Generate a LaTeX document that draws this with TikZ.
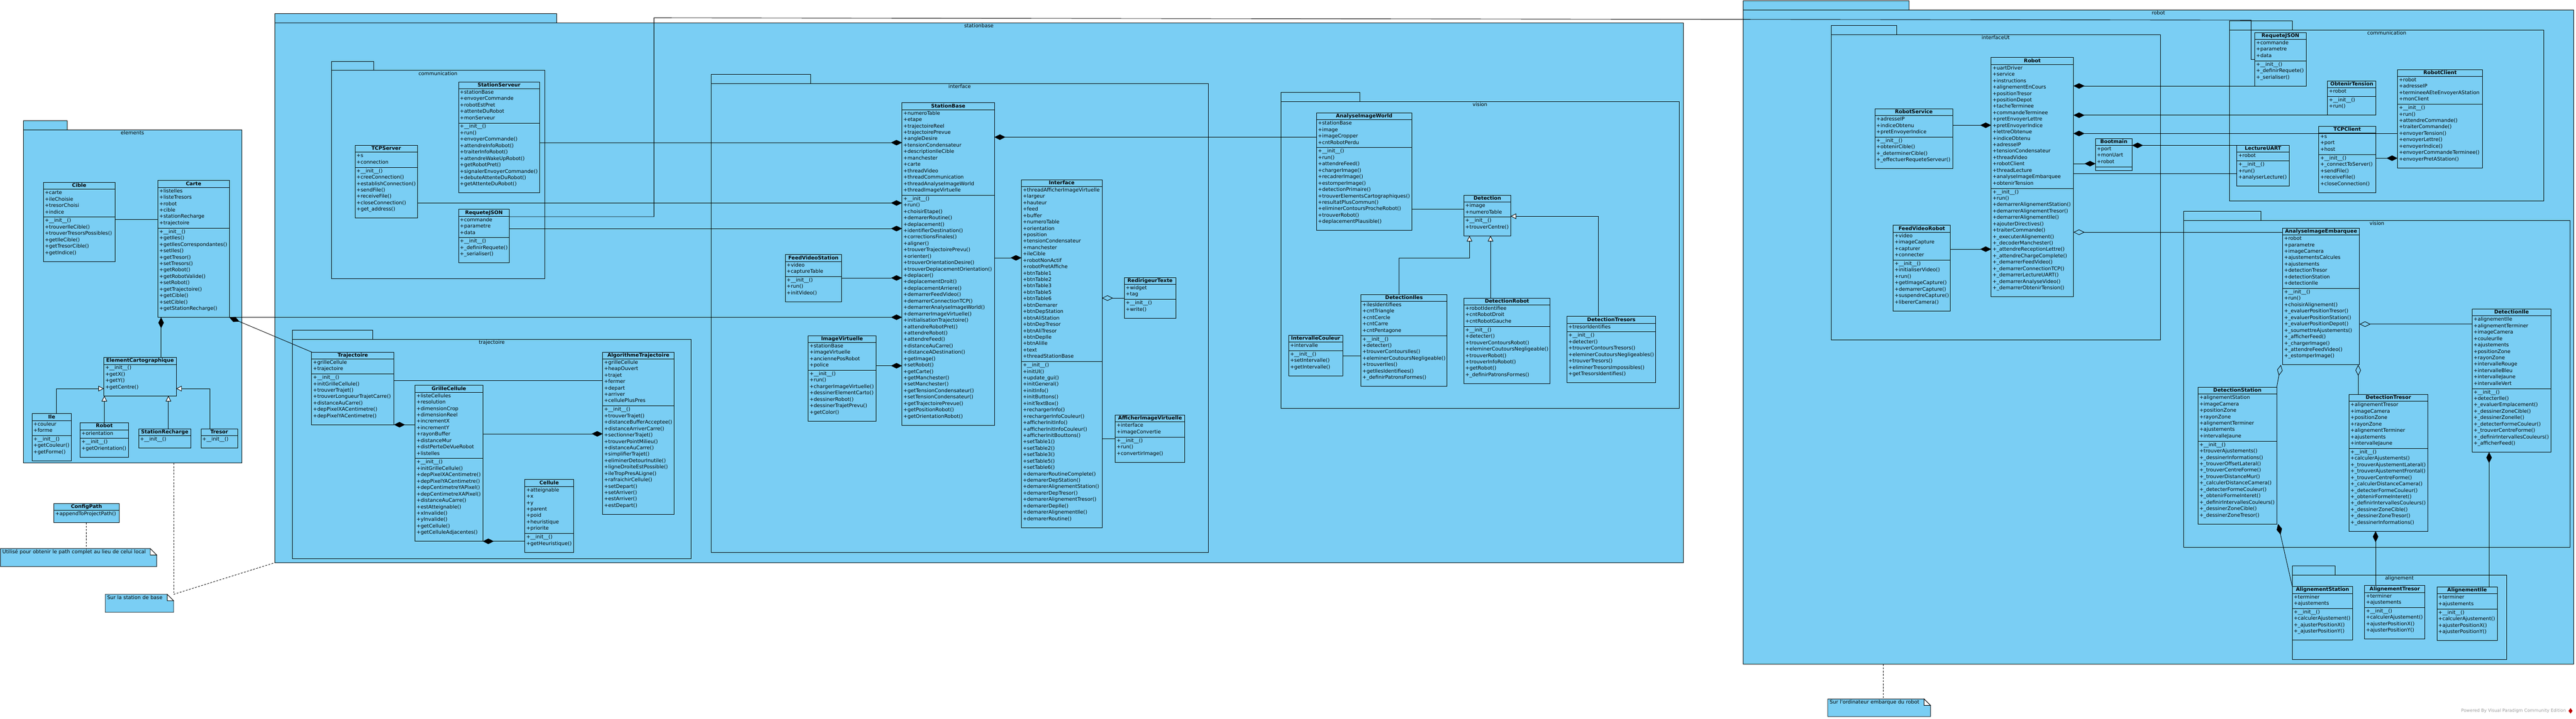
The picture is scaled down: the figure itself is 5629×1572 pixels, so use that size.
\documentclass[tikz,border=0pt]{standalone}
\usepackage{fontspec}
\setmainfont{DejaVu Sans}
\usetikzlibrary{arrows.meta,shapes.multipart,shapes.geometric,backgrounds}

\definecolor{vpblue}{RGB}{122,206,244}

% struts for the class compartments
\newcommand{\hd}[1]{\rule[-3pt]{0pt}{12pt}\textbf{#1}}
\newcommand{\fs}{\rule{0pt}{9.8pt}}
\newcommand{\atend}{\rule[-6.2pt]{0pt}{6.2pt}}
\newcommand{\mtend}{\rule[-14.2pt]{0pt}{14.2pt}}
\newcommand{\cls}[3]{\hd{#1}\nodepart{second}\fs#2\atend\nodepart{third}\fs#3\mtend}
\newcommand{\clsB}[2]{\hd{#1}\nodepart{second}\fs#2\mtend}

\tikzset{
  umlclass/.style={draw, fill=vpblue, line width=1pt, rectangle split, rectangle split parts=3,
    rectangle split part align={center,left,left}, align=left, anchor=north west,
    inner xsep=3pt, inner ysep=1pt, outer sep=0pt, font=\fontsize{11}{14}\selectfont},
  umlclassB/.style={umlclass, rectangle split parts=2},
  package/.style={draw, fill=vpblue, line width=1pt, anchor=north west, inner sep=0pt, outer sep=0pt},
  pkgtab/.style={draw, fill=vpblue, line width=1pt},
  pkglabel/.style={anchor=north, inner sep=0.5pt, font=\fontsize{11}{14}\selectfont},
  assoc/.style={line width=1pt},
  compo/.style={line width=1pt, -{Diamond[length=24pt,width=12pt]}},
  aggreg/.style={line width=1pt, -{Diamond[open,length=24pt,width=12pt]}},
  inherit/.style={line width=1pt, -{Triangle[open,fill=white,length=12pt,width=12pt]}},
  notelink/.style={line width=1pt, dash pattern=on 4pt off 3pt},
  notetext/.style={anchor=north west, align=left, inner xsep=4pt, inner ysep=1pt, text height=9.8pt,
    font=\fontsize{11}{14}\selectfont},
  noteshape/.style={draw, fill=vpblue, line width=1pt},
}

\begin{document}
\catcode`\_=12
\begin{tikzpicture}[x=1pt,y=-1pt]
\useasboundingbox (0,0) rectangle (5629,1572);

% packages, outer ones first
\def\packages{pkgElements/51/284/477/729/96/elements,
  pkgStation/600/50/3078/1181/616/stationbase,
  pkgStComm/724/154/466/455/93/communication,
  pkgTraj/639/742/871/480/175/trajectoire,
  pkgInterface/1554/183/1086/1026/217/interface,
  pkgVision/2799/222/870/671/173/vision,
  pkgRobot/3809/22/1815/1431/363/robot,
  pkgInterfaceUt/4001/76/720/667/144/interfaceUt,
  pkgRbComm/4872/66/687/374/137/communication,
  pkgRbVision/4772/482/844/715/168/vision,
  pkgAlign/5009/1258/468/185/93/alignement}
\foreach \n/\x/\y/\w/\h/\t/\l in \packages {
  \node[package, minimum width=\w, minimum height=\h] (\n) at (\x,\y) {};
  \draw[pkgtab] (\n.north west) rectangle ++(\t,-20);
  \node[pkglabel] (\n-lbl) at (\n.north) {\strut\l};
}

% elements
\node[umlclass, minimum width=156] (Cible) at (95,399) {\cls{Cible}{+carte\\+ileChoisie\\+tresorChoisi\\+indice}{+__init__()\\+trouverIleCible()\\+trouverTresorsPossibles()\\+getIleCible()\\+getTresorCible()\\+getIndice()}};
\node[umlclass, minimum width=156] (Carte) at (345,395) {\cls{Carte}{+listeIles\\+listeTresors\\+robot\\+cible\\+stationRecharge\\+trajectoire}{+__init__()\\+getIles()\\+getIlesCorrespondantes()\\+setIles()\\+getTresor()\\+setTresors()\\+getRobot()\\+getRobotValide()\\+setRobot()\\+getTrajectoire()\\+getCible()\\+setCible()\\+getStationRecharge()}};
\node[umlclassB, minimum width=158] (ElementCarto) at (227,782) {\clsB{ElementCartographique}{+__init__()\\+getX()\\+getY()\\+getCentre()}};
\node[umlclass, minimum width=86] (Ile) at (70,905) {\cls{Ile}{+couleur\\+forme}{+__init__()\\+getCouleur()\\+getForme()}};
\node[umlclass, minimum width=106] (RobotElem) at (175,925) {\cls{Robot}{+orientation}{+__init__()\\+getOrientation()}};
\node[umlclassB, minimum width=114] (StationRecharge) at (303,938) {\clsB{StationRecharge}{+__init__()}};
\node[umlclassB, minimum width=80] (Tresor) at (439,938) {\clsB{Tresor}{+__init__()}};
\node[umlclassB, minimum width=142] (ConfigPath) at (118,1101) {\clsB{ConfigPath}{+appendToProjectPath()}};

% stationbase / communication
\node[umlclass, minimum width=177] (StationServeur) at (1002,179) {\cls{StationServeur}{+stationBase\\+envoyerCommande\\+robotEstPret\\+attenteDuRobot\\+monServeur}{+__init__()\\+run()\\+envoyerCommande()\\+attendreInfoRobot()\\+traiterInfoRobot()\\+attendreWakeUpRobot()\\+getRobotPret()\\+signalerEnvoyerCommande()\\+debuteAttenteDuRobot()\\+getAttenteDuRobot()}};
\node[umlclass, minimum width=136] (TCPServer) at (776,318) {\cls{TCPServer}{+s\\+connection}{+__init__()\\+creeConnection()\\+establishConnection()\\+sendFile()\\+receiveFile()\\+closeConnection()\\+get_address()}};
\node[umlclass, minimum width=111] (RequeteJSON) at (1002,458) {\cls{RequeteJSON}{+commande\\+parametre\\+data}{+__init__()\\+_definirRequete()\\+_serialiser()}};

% stationbase / trajectoire
\node[umlclass, minimum width=180] (Trajectoire) at (681,770) {\cls{Trajectoire}{+grilleCellule\\+trajectoire}{+__init__()\\+initGrilleCellule()\\+trouverTrajet()\\+trouverLongueurTrajetCarre()\\+distanceAuCarre()\\+depPixelXACentimetre()\\+depPixelYACentimetre()}};
\node[umlclass, minimum width=148] (GrilleCellule) at (907,843) {\cls{GrilleCellule}{+listeCellules\\+resolution\\+dimensionCrop\\+dimensionReel\\+incrementX\\+incrementY\\+rayonBuffer\\+distanceMur\\+distPerteDeVueRobot\\+listeIles}{+__init__()\\+initGrilleCellule()\\+depPixelXACentimetre()\\+depPixelYACentimetre()\\+depCentimetreYAPixel()\\+depCentimetreXAPixel()\\+distanceAuCarre()\\+estAtteignable()\\+xInvalide()\\+yInvalide()\\+getCellule()\\+getCelluleAdjacentes()}};
\node[umlclass, minimum width=156] (AlgoTrajectoire) at (1317,770) {\cls{AlgorithmeTrajectoire}{+grilleCellule\\+heapOuvert\\+trajet\\+fermer\\+depart\\+arriver\\+cellulePlusPres}{+__init__()\\+trouverTrajet()\\+distanceBufferAcceptee()\\+distanceArriverCarre()\\+sectionnerTrajet()\\+trouverPointMilieu()\\+distanceAuCarre()\\+simplifierTrajet()\\+eliminerDetourInutile()\\+ligneDroiteEstPossible()\\+ileTropPresALigne()\\+rafraichirCellule()\\+setDepart()\\+setArriver()\\+estArriver()\\+estDepart()}};
\node[umlclass, minimum width=106] (Cellule) at (1147,1049) {\cls{Cellule}{+atteignable\\+x\\+y\\+parent\\+poid\\+heuristique\\+priorite}{+__init__()\\+getHeuristique()}};

% stationbase / interface
\node[umlclass, minimum width=202] (StationBase) at (1971,225) {\cls{StationBase}{+numeroTable\\+etape\\+trajectoireReel\\+trajectoirePrevue\\+angleDesire\\+tensionCondensateur\\+descriptionIleCible\\+manchester\\+carte\\+threadVideo\\+threadCommunication\\+threadAnalyseImageWorld\\+threadImageVirtuelle}{+__init__()\\+run()\\+choisirEtape()\\+demarerRoutine()\\+deplacement()\\+identifierDestination()\\+correctionsFinales()\\+aligner()\\+trouverTrajectoirePrevu()\\+orienter()\\+trouverOrientationDesire()\\+trouverDeplacementOrientation()\\+deplacer()\\+deplacementDroit()\\+deplacementArriere()\\+demarrerFeedVideo()\\+demarrerConnectionTCP()\\+demarrerAnalyseImageWorld()\\+demarrerImageVirtuelle()\\+initialisationTrajectoire()\\+attendreRobotPret()\\+attendreRobot()\\+attendreFeed()\\+distanceAuCarre()\\+distanceADestination()\\+getImage()\\+setRobot()\\+getCarte()\\+getManchester()\\+setManchester()\\+getTensionCondensateur()\\+setTensionCondensateur()\\+getTrajectoirePrevue()\\+getPositionRobot()\\+getOrientationRobot()}};
\node[umlclass, minimum width=123] (FeedVideoStation) at (1716,557) {\cls{FeedVideoStation}{+video\\+captureTable}{+__init__()\\+run()\\+initVideo()}};
\node[umlclass, minimum width=148] (ImageVirtuelle) at (1766,734) {\cls{ImageVirtuelle}{+stationBase\\+imageVirtuelle\\+anciennePosRobot\\+police}{+__init__()\\+run()\\+chargerImageVirtuelle()\\+dessinerElementCarto()\\+dessinerRobot()\\+dessinerTrajetPrevu()\\+getColor()}};
\node[umlclass, minimum width=176] (Interface) at (2232,393) {\cls{Interface}{+threadAfficherImageVirtuelle\\+largeur\\+hauteur\\+feed\\+buffer\\+numeroTable\\+orientation\\+position\\+tensionCondensateur\\+manchester\\+ileCible\\+robotNonActif\\+robotPretAffiche\\+btnTable1\\+btnTable2\\+btnTable3\\+btnTable5\\+btnTable6\\+btnDemarer\\+btnDepStation\\+btnAliStation\\+btnDepTresor\\+btnAliTresor\\+btnDepIle\\+btnAliIle\\+text\\+threadStationBase}{+__init__()\\+initUI()\\+update_gui()\\+initGeneral()\\+initInfo()\\+initButtons()\\+initTextBox()\\+rechargerInfo()\\+rechargerInfoCouleur()\\+afficherInitInfo()\\+afficherInitInfoCouleur()\\+afficherInitBouttons()\\+setTable1()\\+setTable2()\\+setTable3()\\+setTable5()\\+setTable6()\\+demarerRoutineComplete()\\+demarerDepStation()\\+demarerAlignementStation()\\+demarerDepTresor()\\+demarerAlignementTresor()\\+demarerDepIle()\\+demarerAlignementIle()\\+demarerRoutine()}};
\node[umlclass, minimum width=112] (RedirigeurTexte) at (2457,607) {\cls{RedirigeurTexte}{+widget\\+tag}{+__init__()\\+write()}};
\node[umlclass, minimum width=152] (AfficherImage) at (2437,908) {\cls{AfficherImageVirtuelle}{+interface\\+imageConvertie}{+__init__()\\+run()\\+convertirImage()}};

% stationbase / vision
\node[umlclass, minimum width=208] (AnalyseWorld) at (2877,247) {\cls{AnalyseImageWorld}{+stationBase\\+image\\+imageCropper\\+cntRobotPerdu}{+__init__()\\+run()\\+attendreFeed()\\+chargerImage()\\+recadrerImage()\\+estomperImage()\\+detectionPrimaire()\\+trouverElementsCartographiques()\\+resultatPlusCommun()\\+eliminerContoursProcheRobot()\\+trouverRobot()\\+deplacementPlausible()}};
\node[umlclass, minimum width=102] (Detection) at (3199,427) {\cls{Detection}{+image\\+numeroTable}{+__init__()\\+trouverCentre()}};
\node[umlclass, minimum width=188] (DetectionIles) at (2974,644) {\cls{DetectionIles}{+ilesIdentifiees\\+cntTriangle\\+cntCercle\\+cntCarre\\+cntPentagone}{+__init__()\\+detecter()\\+trouverContoursIles()\\+eleminerCoutoursNegligeable()\\+trouverIles()\\+getIlesIdentifiees()\\+_definirPatronsFormes()}};
\node[umlclass, minimum width=188] (DetectionRobot) at (3199,652) {\cls{DetectionRobot}{+robotIdentifiee\\+cntRobotDroit\\+cntRobotGauche}{+__init__()\\+detecter()\\+trouverContoursRobot()\\+eleminerCoutoursNegligeable()\\+trouverRobot()\\+trouverInfoRobot()\\+getRobot()\\+_definirPatronsFormes()}};
\node[umlclass, minimum width=194] (DetectionTresors) at (3424,692) {\cls{DetectionTresors}{+tresorIdentifies}{+__init__()\\+detecter()\\+trouverContoursTresors()\\+eleminerCoutoursNegligeables()\\+trouverTresors()\\+eliminerTresorsImpossibles()\\+getTresorsIdentifies()}};
\node[umlclass, minimum width=118] (IntervalleCouleur) at (2816,733) {\cls{IntervalleCouleur}{+intervalle}{+__init__()\\+setIntervalle()\\+getIntervalle()}};

% robot / interfaceUt
\node[umlclass, minimum width=180] (RobotMain) at (4351,126) {\cls{Robot}{+uartDriver\\+service\\+instructions\\+alignementEnCours\\+positionTresor\\+positionDepot\\+tacheTerminee\\+commandeTerminee\\+pretEnvoyerLettre\\+pretEnvoyerIndice\\+lettreObtenue\\+indiceObtenu\\+adresseIP\\+tensionCondensateur\\+threadVideo\\+robotClient\\+threadLecture\\+analyseImageEmbarquee\\+obtenirTension}{+__init__()\\+run()\\+demarrerAlignementStation()\\+demarrerAlignementTresor()\\+demarrerAlignementIle()\\+ajouterDirectives()\\+traiterCommande()\\+_executerAlignement()\\+_decoderManchester()\\+_attendreReceptionLettre()\\+_attendreChargeComplete()\\+_demarrerFeedVideo()\\+_demarrerConnectionTCP()\\+_demarrerLectureUART()\\+_demarrerAnalyseVideo()\\+_demarrerObtenirTension()}};
\node[umlclass, minimum width=170] (RobotService) at (4097,238) {\cls{RobotService}{+adresseIP\\+indiceObtenu\\+pretEnvoyerIndice}{+__init__()\\+obtenirCible()\\+_determinerCible()\\+_effectuerRequeteServeur()}};
\node[umlclass, minimum width=125] (FeedVideoRobot) at (4137,493) {\cls{FeedVideoRobot}{+video\\+imageCapture\\+capturer\\+connecter}{+__init__()\\+initialiserVideo()\\+run()\\+getImageCapture()\\+demarrerCapture()\\+suspendreCapture()\\+libererCamera()}};
\node[umlclass, minimum width=80] (Bootmain) at (4579,303) {\hd{Bootmain}\nodepart{second}\fs+port\\+monUart\\+robot\atend\nodepart{third}\rule{0pt}{5.5pt}};

% robot / communication
\node[umlclass, minimum width=112] (RequeteJSONr) at (4927,71) {\cls{RequeteJSON}{+commande\\+parametre\\+data}{+__init__()\\+_definirRequete()\\+_serialiser()}};
\node[umlclass, minimum width=106] (ObtenirTension) at (5086,177) {\cls{ObtenirTension}{+robot}{+__init__()\\+run()}};
\node[umlclass, minimum width=186] (RobotClient) at (5239,152) {\cls{RobotClient}{+robot\\+adresseIP\\+termineeAEteEnvoyerAStation\\+monClient}{+__init__()\\+run()\\+attendreCommande()\\+traiterCommande()\\+envoyerTension()\\+envoyerLettre()\\+envoyerIndice()\\+envoyerCommandeTerminee()\\+envoyerPretAStation()}};
\node[umlclass, minimum width=124] (TCPClient) at (5067,276) {\cls{TCPClient}{+s\\+port\\+host}{+__init__()\\+_connectToServer()\\+sendFile()\\+receiveFile()\\+closeConnection()}};
\node[umlclass, minimum width=114] (LectureUART) at (4888,318) {\cls{LectureUART}{+robot}{+__init__()\\+run()\\+analyserLecture()}};

% robot / vision
\node[umlclass, minimum width=168] (AnalyseEmbarquee) at (4988,499) {\cls{AnalyseImageEmbarquee}{+robot\\+parametre\\+imageCamera\\+ajustementsCalcules\\+ajustements\\+detectionTresor\\+detectionStation\\+detectionIle}{+__init__()\\+run()\\+choisirAlignement()\\+_evaluerPositionTresor()\\+_evaluerPositionStation()\\+_evaluerPositionDepot()\\+_soumettreAjustements()\\+_afficherFeed()\\+_chargerImage()\\+_attendreFeedVideo()\\+_estomperImage()}};
\node[umlclass, minimum width=172] (DetectionIle) at (5402,676) {\cls{DetectionIle}{+alignementIle\\+alignementTerminer\\+imageCamera\\+couleurIle\\+ajustements\\+positionZone\\+rayonZone\\+intervalleRouge\\+intervalleBleu\\+intervalleJaune\\+intervalleVert}{+__init__()\\+detecterIle()\\+_evaluerEmplacement()\\+_dessinerZoneCible()\\+_dessinerZoneIle()\\+_detecterFormeCouleur()\\+_trouverCentreForme()\\+_definirIntervallesCouleurs()\\+_afficherFeed()}};
\node[umlclass, minimum width=172] (DetectionStation) at (4803,847) {\cls{DetectionStation}{+alignementStation\\+imageCamera\\+positionZone\\+rayonZone\\+alignementTerminer\\+ajustements\\+intervalleJaune}{+__init__()\\+trouverAjustements()\\+_dessinerInformations()\\+_trouverOffsetLateral()\\+_trouverCentreForme()\\+_trouverDistanceMur()\\+_calculerDistanceCamera()\\+_detecterFormeCouleur()\\+_obtenirFormeInteret()\\+_definirIntervallesCouleurs()\\+_dessinerZoneCible()\\+_dessinerZoneTresor()}};
\node[umlclass, minimum width=172] (DetectionTresor) at (5133,863) {\cls{DetectionTresor}{+alignementTresor\\+imageCamera\\+positionZone\\+rayonZone\\+alignementTerminer\\+ajustements\\+intervalleJaune}{+__init__()\\+calculerAjustements()\\+_trouverAjustementLateral()\\+_trouverAjustementFrontal()\\+_trouverCentreForme()\\+_calculerDistanceCamera()\\+_detecterFormeCouleur()\\+_obtenirFormeInteret()\\+_definirIntervallesCouleurs()\\+_dessinerZoneCible()\\+_dessinerZoneTresor()\\+_dessinerInformations()}};

% robot / vision / alignement
\node[umlclass, minimum width=132] (AlignStation) at (5009,1283) {\cls{AlignementStation}{+terminer\\+ajustements}{+__init__()\\+calculerAjustement()\\+_ajusterPositionX()\\+_ajusterPositionY()}};
\node[umlclass, minimum width=132] (AlignTresor) at (5167,1281) {\cls{AlignementTresor}{+terminer\\+ajustements}{+__init__()\\+calculerAjustement()\\+ajusterPositionX()\\+ajusterPositionY()}};
\node[umlclass, minimum width=132] (AlignIle) at (5325,1284) {\cls{AlignementIle}{+terminer\\+ajustements}{+__init__()\\+calculerAjustement()\\+ajusterPositionX()\\+ajusterPositionY()}};

% connectors: elements
\draw[assoc] (Cible.east |- 0,480) -- (Carte.west |- 0,480);
\draw[compo] (352,0 |- ElementCarto.north) -- (352,0 |- Carte.south);
\draw[compo] (Trajectoire.north west) -- (Carte.south east);
\draw[compo] (Carte.south east) -- (StationBase.west |- Carte.south east);
\draw[inherit] (123,0 |- Ile.north) |- (ElementCarto.west |- 0,850);
\draw[inherit] (228,0 |- RobotElem.north) -- (228,0 |- ElementCarto.south);
\draw[inherit] (368,0 |- StationRecharge.north) -- (368,0 |- ElementCarto.south);
\draw[inherit] (459,0 |- Tresor.north) |- (ElementCarto.east |- 0,850);

% connectors: stationbase
\draw[compo] (StationServeur.east |- 0,312) -- (StationBase.west |- 0,312);
\draw[compo] (TCPServer.east |- 0,444) -- (StationBase.west |- 0,444);
\draw[compo] (RequeteJSON.east |- 0,500) -- (StationBase.west |- 0,500);
\draw[assoc] (RequeteJSON.east |- 0,474) -| (1429,39) -- (4919,44) |- (RequeteJSONr.west |- 0,130);
\draw[assoc] (Trajectoire.east |- 0,832) -- (AlgoTrajectoire.west |- 0,832);
\draw[compo] (GrilleCellule.west |- Trajectoire.south east) -- (Trajectoire.south east);
\draw[compo] (GrilleCellule.east |- 0,949) -- (AlgoTrajectoire.west |- 0,949);
\draw[compo] (Cellule.west |- GrilleCellule.south east) -- (GrilleCellule.south east);
\draw[compo] (FeedVideoStation.east |- 0,608) -- (StationBase.west |- 0,608);
\draw[compo] (ImageVirtuelle.east |- 0,800) -- (StationBase.west |- 0,800);
\draw[compo] (AnalyseWorld.west |- 0,300) -- (StationBase.east |- 0,300);
\draw[compo] (StationBase.east |- 0,564) -- (Interface.west |- 0,564);
\draw[aggreg] (RedirigeurTexte.west |- 0,652) -- (Interface.east |- 0,652);
\draw[assoc] (Interface.east |- 0,960) -- (AfficherImage.west |- 0,960);
\draw[assoc] (AnalyseWorld.east |- 0,458) -- (Detection.west |- 0,458);
\draw[inherit] (3057,0 |- DetectionIles.north) |- (3211,565) -- (3211,0 |- Detection.south);
\draw[inherit] (3257,0 |- DetectionRobot.north) -- (3257,0 |- Detection.south);
\draw[inherit] (3493,0 |- DetectionTresors.north) |- (Detection.east |- 0,473);
\draw[assoc] (IntervalleCouleur.east |- 0,778) -- (DetectionIles.west |- 0,778);

% connectors: robot
\draw[compo] (RobotService.east |- 0,274) -- (RobotMain.west |- 0,274);
\draw[compo] (FeedVideoRobot.east |- 0,545) -- (RobotMain.west |- 0,545);
\draw[compo] (RobotMain.east |- 0,358) -- (Bootmain.west |- 0,358);
\draw[compo] (RequeteJSONr.south west) -- (RobotMain.east |- RequeteJSONr.south west);
\draw[compo] (ObtenirTension.south west) -- (RobotMain.east |- ObtenirTension.south west);
\draw[compo] (RobotClient.west |- 0,292) -- (RobotMain.east |- 0,292);
\draw[assoc] (RobotMain.east |- 0,380) -- (LectureUART.west |- 0,380);
\draw[compo] (LectureUART.north west) -- (Bootmain.east |- LectureUART.north west);
\draw[aggreg] (AnalyseEmbarquee.west |- 0,508) -- (RobotMain.east |- 0,508);
\draw[compo] (TCPClient.east |- 0,346) -- (RobotClient.west |- 0,346);
\draw[aggreg] (DetectionIle.west |- 0,709) -- (AnalyseEmbarquee.east |- 0,709);
\draw[aggreg] (DetectionStation.north east) -- (4984,0 |- AnalyseEmbarquee.south);
\draw[aggreg] (5153,0 |- DetectionTresor.north) -- (5153,0 |- AnalyseEmbarquee.south);
\draw[compo] (AlignStation.north west) -- (4978,0 |- DetectionStation.south);
\draw[compo] (5191,0 |- AlignTresor.north) -- (5191,0 |- DetectionTresor.south);
\draw[compo] (5439,0 |- AlignIle.north) -- (5439,0 |- DetectionIle.south);

% notes
\node[notetext, text width=333pt, text depth=27.2pt] (noteConfig) at (1,1200) {Utilisé pour obtenir le path complet au lieu de celui local};
\node[notetext, text width=141pt, text depth=27.2pt] (noteStation) at (230,1300) {Sur la station de base};
\node[notetext, text width=216pt, text depth=26.2pt] (noteRobot) at (3994,1529) {Sur l\textquotesingle ordinateur embarque du robot};
\begin{scope}[on background layer]
\foreach \n in {noteConfig,noteStation,noteRobot} {
  \draw[noteshape] (\n.south west) -- (\n.north west) -- ([xshift=-14pt]\n.north east)
    -- ([yshift=-14pt]\n.north east) -- (\n.south east) -- cycle;
  \draw[noteshape, fill=white] ([xshift=-14pt]\n.north east) -- ([xshift=-14pt,yshift=-14pt]\n.north east)
    -- ([yshift=-14pt]\n.north east) -- cycle;
}
\end{scope}
\draw[notelink] (ConfigPath.south) -- (ConfigPath.south |- noteConfig.north);
\draw[notelink] (pkgElements.south -| noteStation.north east) -- (noteStation.north east);
\draw[notelink] (noteStation.north east) -- (pkgStation.south west);
\draw[notelink] (4115,0 |- pkgRobot.south) -- (4115,0 |- noteRobot.north);

% credit line
\node[anchor=east, inner sep=0pt, text=black!40, font=\fontsize{9.5}{11}\selectfont] (vpcredit) at (5607,1555) {Powered By Visual Paradigm Community Edition};
\node[diamond, fill=red!75!black, inner sep=0pt, minimum width=9pt, minimum height=12pt] (vplogo) at (5617,1555) {};

\end{tikzpicture}
\end{document}
